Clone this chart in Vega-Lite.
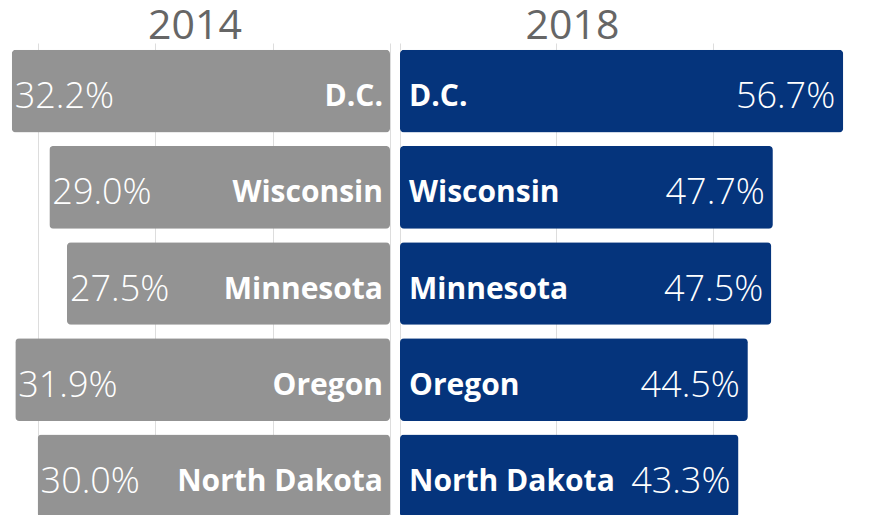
{
  "$schema": "https://vega.github.io/schema/vega-lite/v6.json",
  "padding": {"top": 6, "left": 0, "right": 0, "bottom": 0},
  "background": "white",
  "config": {
    "view": {"stroke": null},
    "font": "Open Sans",
    "title": {"font": "Open Sans", "fontSize": 41, "fontWeight": 500, "color": "#666666", "anchor": "middle", "offset": -5}
  },
  "data": {
    "values": [
      {"state": "D.C.", "y2014": 0.322, "y2018": 0.567},
      {"state": "Wisconsin", "y2014": 0.290, "y2018": 0.477},
      {"state": "Minnesota", "y2014": 0.275, "y2018": 0.475},
      {"state": "Oregon", "y2014": 0.319, "y2018": 0.445},
      {"state": "North Dakota", "y2014": 0.300, "y2018": 0.433}
    ]
  },
  "spacing": 10,
  "hconcat": [
    {
      "width": 390,
      "height": 481,
      "title": {"text": "2014"},
      "encoding": {
        "y": {"field": "state", "type": "nominal", "sort": null, "axis": null,
              "scale": {"paddingInner": 0.14, "paddingOuter": 0.07}}
      },
      "layer": [
        {
          "mark": {"type": "bar", "color": "#939393", "cornerRadius": 4},
          "encoding": {
            "x": {"field": "y2014", "type": "quantitative",
                  "scale": {"domain": [0, 0.332], "reverse": true, "nice": false, "zero": true},
                  "axis": {"orient": "top", "values": [0, 0.1, 0.2, 0.3], "labels": false, "ticks": false, "domain": false, "title": null, "grid": true, "gridColor": "#dddddd", "gridWidth": 1}}
          }
        },
        {
          "mark": {"type": "text", "align": "left", "baseline": "middle", "dx": 3, "dy": 6, "fontSize": 36, "fontWeight": 300, "color": "white"},
          "encoding": {
            "x": {"field": "y2014", "type": "quantitative"},
            "text": {"field": "y2014", "type": "quantitative", "format": ".1%"}
          }
        },
        {
          "mark": {"type": "text", "align": "right", "baseline": "middle", "dx": -7, "dy": 6, "fontSize": 30, "fontWeight": "bold", "color": "white"},
          "encoding": {
            "x": {"datum": 0, "type": "quantitative"},
            "text": {"field": "state", "type": "nominal"}
          }
        }
      ]
    },
    {
      "width": 469,
      "height": 481,
      "title": {"text": "2018", "dx": -62},
      "encoding": {
        "y": {"field": "state", "type": "nominal", "sort": null, "axis": null,
              "scale": {"paddingInner": 0.14, "paddingOuter": 0.07}}
      },
      "layer": [
        {
          "mark": {"type": "bar", "color": "#05347C", "cornerRadius": 4},
          "encoding": {
            "x": {"field": "y2018", "type": "quantitative",
                  "scale": {"domain": [0, 0.6], "nice": false, "zero": true},
                  "axis": {"orient": "top", "values": [0, 0.2, 0.4, 0.6], "labels": false, "ticks": false, "domain": false, "title": null, "grid": true, "gridColor": "#dddddd", "gridWidth": 1}}
          }
        },
        {
          "mark": {"type": "text", "align": "right", "baseline": "middle", "dx": -8, "dy": 6, "fontSize": 36, "fontWeight": 300, "color": "white"},
          "encoding": {
            "x": {"field": "y2018", "type": "quantitative"},
            "text": {"field": "y2018", "type": "quantitative", "format": ".1%"}
          }
        },
        {
          "mark": {"type": "text", "align": "left", "baseline": "middle", "dx": 9, "dy": 6, "fontSize": 30, "fontWeight": "bold", "color": "white"},
          "encoding": {
            "x": {"datum": 0, "type": "quantitative"},
            "text": {"field": "state", "type": "nominal"}
          }
        }
      ]
    }
  ]
}
